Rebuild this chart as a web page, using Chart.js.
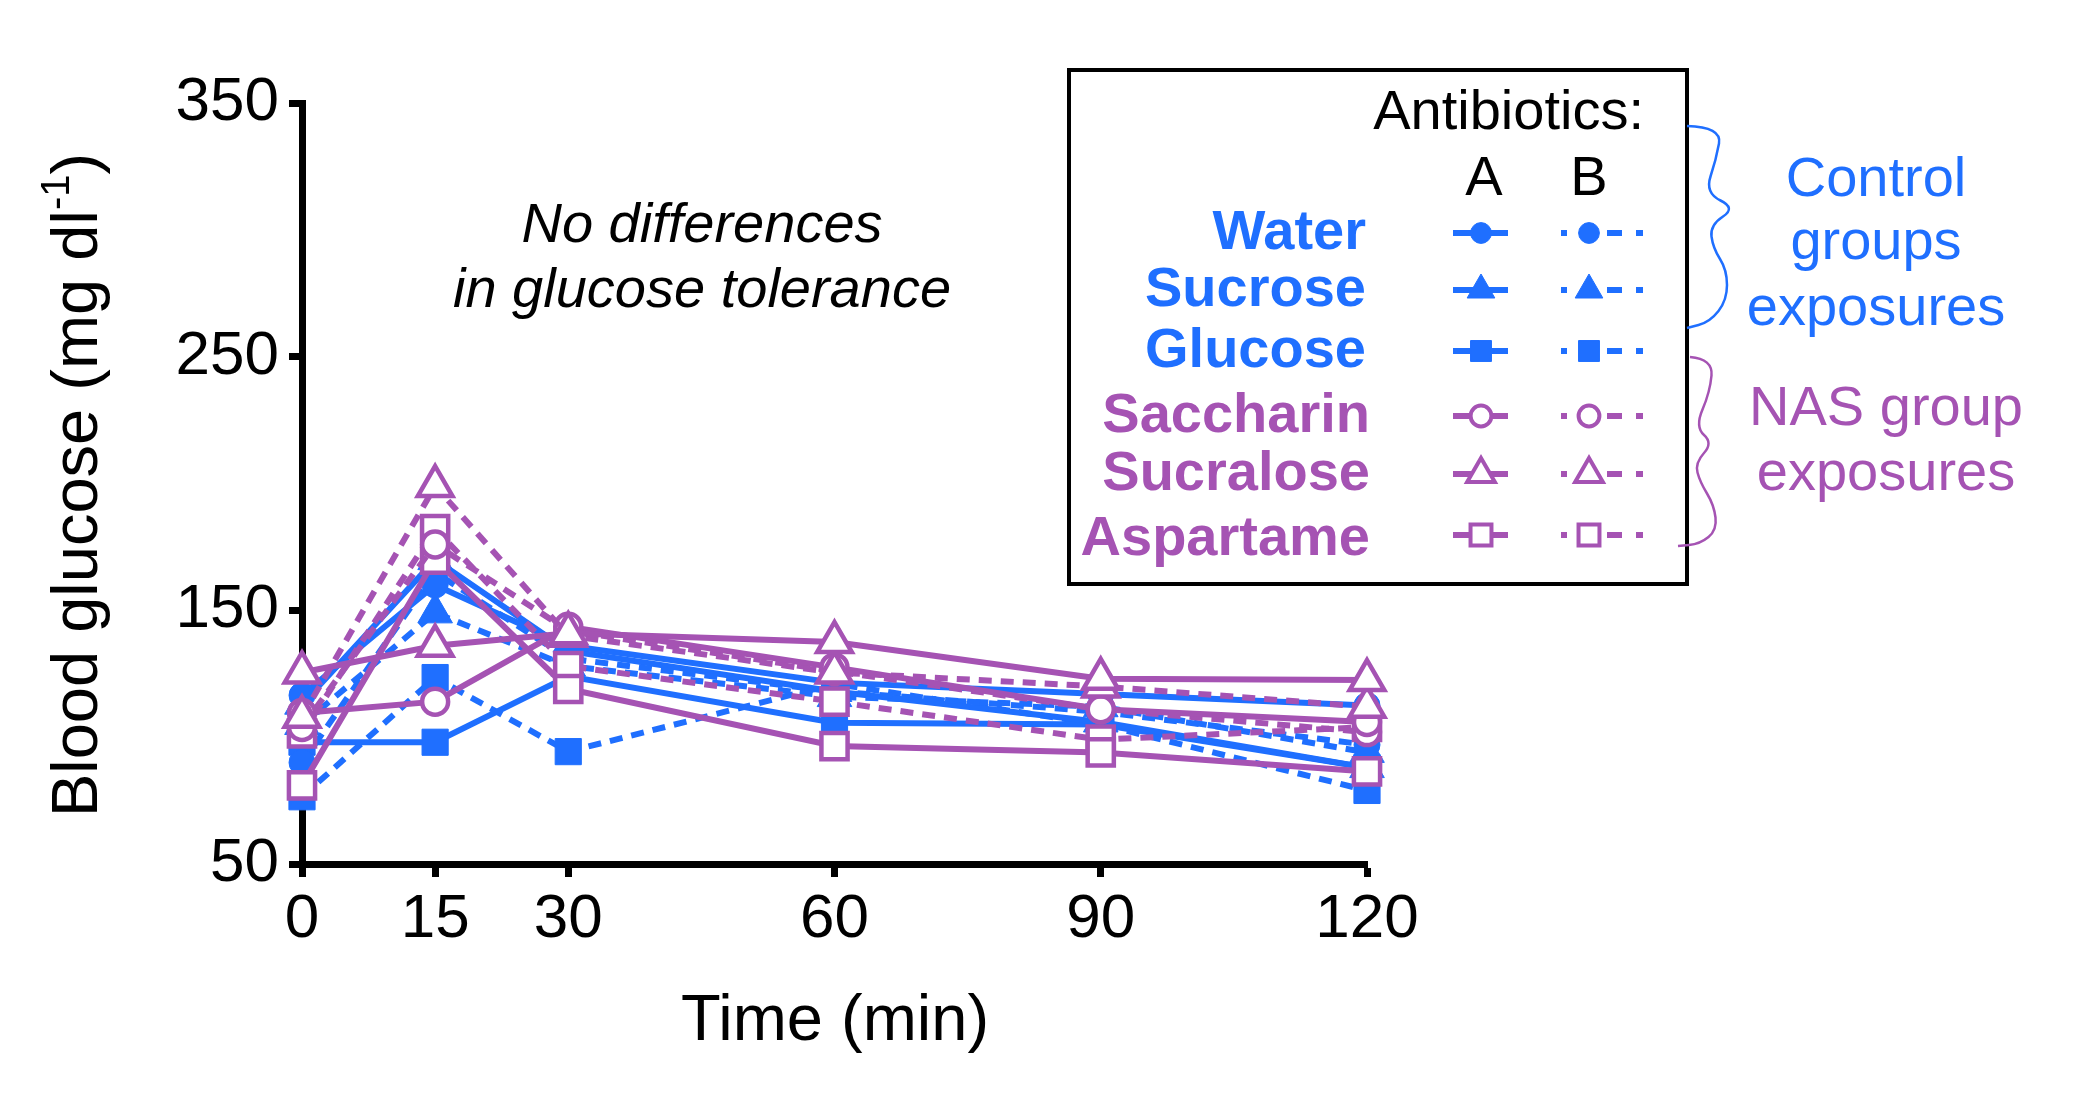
<!DOCTYPE html>
<html>
<head>
<meta charset="utf-8">
<title>Blood glucose</title>
<script src="https://cdn.jsdelivr.net/npm/chart.js@4.4.1/dist/chart.umd.min.js"></script>
<style>
  html, body { margin: 0; padding: 0; background: #fff; }
  canvas { display: block; }
</style>
</head>
<body>
<canvas id="glucoseChart" width="2078" height="1093"></canvas>
<script>
// ==========================
// Data
// ==========================

const timePoints = [0, 15, 30, 60, 90, 120];
const yTicks = [50, 150, 250, 350];

// control groups (blue, filled markers)
const waterA = [116.5, 160, 136, 121.5, 117, 112.5];
const waterB = [90, 165, 131, 118, 110, 97];
const sucroseA = [113, 170, 134, 118, 106, 88];
const sucroseB = [105, 149, 128, 116, 112, 94];
const glucoseA = [98, 98, 124, 105.7, 105, 88];
const glucoseB = [76.5, 123.5, 94.3, 121, 105, 79];

// NAS groups (purple, open markers)
const saccharinA = [109.5, 114, 143.5, 127.5, 111, 106];
const saccharinB = [104, 176, 142, 126, 111, 102];
const sucraloseA = [125.5, 136, 141, 137.5, 123, 122.5];
const sucraloseB = [108, 199, 140, 125.5, 120, 112];
const aspartameA = [81, 170, 119, 96.5, 94, 86.5];
const aspartameB = [101.5, 182, 128, 114, 99, 104];

const BLUE = "#1f6fff";
const PURPLE = "#a553b3";
const FONT = "'Liberation Sans', Arial, sans-serif";

const radiusFor = { circle: 13, triangle: 20, rect: 18.5 };

function makeSeries(label, values, color, style, dashed, open) {
    return {
        label: label,
        data: values.map((v, i) => ({ x: timePoints[i], y: v })),
        borderColor: color,
        borderWidth: 6,
        borderDash: dashed ? [13, 9] : [],
        backgroundColor: color,
        pointStyle: style,
        pointRadius: radiusFor[style],
        pointHoverRadius: radiusFor[style],
        pointBackgroundColor: open ? "#ffffff" : color,
        pointBorderColor: color,
        pointBorderWidth: open ? 4.5 : 1,
        tension: 0,
        clip: false
    };
}

// first datasets are painted last (on top)
const datasets = [
    makeSeries("Sucralose A", sucraloseA, PURPLE, "triangle", false, true),
    makeSeries("Sucralose B", sucraloseB, PURPLE, "triangle", true, true),
    makeSeries("Saccharin A", saccharinA, PURPLE, "circle", false, true),
    makeSeries("Saccharin B", saccharinB, PURPLE, "circle", true, true),
    makeSeries("Aspartame A", aspartameA, PURPLE, "rect", false, true),
    makeSeries("Aspartame B", aspartameB, PURPLE, "rect", true, true),
    makeSeries("Water A", waterA, BLUE, "circle", false, false),
    makeSeries("Water B", waterB, BLUE, "circle", true, false),
    makeSeries("Sucrose A", sucroseA, BLUE, "triangle", false, false),
    makeSeries("Sucrose B", sucroseB, BLUE, "triangle", true, false),
    makeSeries("Glucose A", glucoseA, BLUE, "rect", false, false),
    makeSeries("Glucose B", glucoseB, BLUE, "rect", true, false)
];

// ==========================
// Legend / annotation rows
// ==========================

const legendRows = [
    { name: "Water", color: BLUE, style: "circle", open: false },
    { name: "Sucrose", color: BLUE, style: "triangle", open: false },
    { name: "Glucose", color: BLUE, style: "rect", open: false },
    { name: "Saccharin", color: PURPLE, style: "circle", open: true },
    { name: "Sucralose", color: PURPLE, style: "triangle", open: true },
    { name: "Aspartame", color: PURPLE, style: "rect", open: true }
];
const legendRowY = [233, 290, 351, 416, 474, 535];
const legendTextY = [249, 306, 367, 432, 490, 555];

function marker(ctx, style, x, y, color, open, scale) {
    const r = radiusFor[style] * scale;
    ctx.fillStyle = open ? "#ffffff" : color;
    ctx.strokeStyle = color;
    ctx.lineWidth = open ? 4 : 1;
    ctx.setLineDash([]);
    Chart.helpers.drawPoint(ctx, { pointStyle: style, radius: r, rotation: 0, borderWidth: ctx.lineWidth }, x, y);
}

function smoothPath(ctx, pts) {
    ctx.beginPath();
    ctx.moveTo(pts[0][0], pts[0][1]);
    for (let i = 1; i < pts.length - 1; i++) {
        const mx = (pts[i][0] + pts[i + 1][0]) / 2;
        const my = (pts[i][1] + pts[i + 1][1]) / 2;
        ctx.quadraticCurveTo(pts[i][0], pts[i][1], mx, my);
    }
    const last = pts[pts.length - 1];
    ctx.lineTo(last[0], last[1]);
    ctx.stroke();
}

const overlay = {
    id: "overlay",
    afterDraw(chart) {
        const ctx = chart.ctx;
        ctx.save();
        ctx.textAlign = "left";
        ctx.textBaseline = "alphabetic";

        // y axis title with superscript
        ctx.save();
        ctx.translate(97, 485);
        ctx.rotate(-Math.PI / 2);
        ctx.fillStyle = "#000";
        const big = "65px " + FONT;
        const small = "40px " + FONT;
        ctx.font = big;
        const t1 = "Blood glucose (mg dl";
        const t3 = ")";
        const w1 = ctx.measureText(t1).width;
        const w3 = ctx.measureText(t3).width;
        ctx.font = small;
        const t2 = "-1";
        const w2 = ctx.measureText(t2).width;
        const start = -(w1 + w2 + w3) / 2;
        ctx.font = big;
        ctx.fillText(t1, start, 0);
        ctx.fillText(t3, start + w1 + w2, 0);
        ctx.font = small;
        ctx.fillText(t2, start + w1, -28);
        ctx.restore();

        // x axis title
        ctx.fillStyle = "#000";
        ctx.font = "65px " + FONT;
        ctx.textAlign = "center";
        ctx.fillText("Time (min)", 835, 1040);

        // annotation
        ctx.font = "italic 56px " + FONT;
        ctx.fillText("No differences", 702, 242);
        ctx.fillText("in glucose tolerance", 702, 307);

        // legend box
        ctx.lineWidth = 4;
        ctx.strokeStyle = "#000";
        ctx.setLineDash([]);
        ctx.strokeRect(1069, 70, 618, 514);

        ctx.font = "56px " + FONT;
        ctx.textAlign = "right";
        ctx.fillText("Antibiotics:", 1644, 129);
        ctx.textAlign = "center";
        ctx.fillText("A", 1484, 195);
        ctx.fillText("B", 1589, 195);

        ctx.font = "bold 56px " + FONT;
        ctx.textAlign = "right";
        legendRows.forEach((row, i) => {
            const y = legendRowY[i];
            ctx.fillStyle = row.color;
            ctx.fillText(row.name, row.color === BLUE ? 1366 : 1370, legendTextY[i]);

            // column A: solid line through marker
            ctx.strokeStyle = row.color;
            ctx.lineWidth = 6;
            ctx.setLineDash([]);
            ctx.beginPath();
            ctx.moveTo(1453, y);
            ctx.lineTo(1508, y);
            ctx.stroke();
            marker(ctx, row.style, 1481, y, row.color, row.open, 0.8);

            // column B: dashed line through marker
            ctx.strokeStyle = row.color;
            ctx.lineWidth = 6;
            [[1561, 1567], [1607, 1622], [1636, 1643]].forEach(seg => {
                ctx.beginPath();
                ctx.moveTo(seg[0], y);
                ctx.lineTo(seg[1], y);
                ctx.stroke();
            });
            marker(ctx, row.style, 1589, y, row.color, row.open, 0.8);
        });

        // braces
        ctx.lineWidth = 2.5;
        ctx.strokeStyle = BLUE;
        smoothPath(ctx, [[1687, 126], [1722, 127], [1716, 160], [1705, 193], [1736, 208], [1710, 225], [1713, 248], [1727, 270], [1727, 300], [1710, 322], [1687, 328]]);
        ctx.strokeStyle = PURPLE;
        smoothPath(ctx, [[1690, 357], [1713, 359], [1710, 392], [1695, 427], [1713, 443], [1695, 463], [1700, 482], [1714, 505], [1717, 530], [1700, 544], [1678, 546]]);

        // group captions
        ctx.font = "56px " + FONT;
        ctx.textAlign = "center";
        ctx.fillStyle = BLUE;
        ctx.fillText("Control", 1876, 196);
        ctx.fillText("groups", 1876, 259);
        ctx.fillText("exposures", 1876, 325);
        ctx.fillStyle = PURPLE;
        ctx.fillText("NAS group", 1886, 425);
        ctx.fillText("exposures", 1886, 490);

        ctx.restore();
    }
};

// ==========================
// Chart
// ==========================

const chartCanvas = document.getElementById("glucoseChart");

new Chart(chartCanvas, {
    type: "line",
    data: { datasets: datasets },
    options: {
        responsive: false,
        devicePixelRatio: 1,
        animation: false,
        events: [],
        layout: {
            padding: { top: 103, right: 711, bottom: 0, left: 0 }
        },
        plugins: {
            legend: { display: false },
            tooltip: { enabled: false }
        },
        scales: {
            x: {
                type: "linear",
                min: 0,
                max: 120,
                afterBuildTicks: (scale) => {
                    scale.ticks = timePoints.map(v => ({ value: v }));
                },
                afterFit: (scale) => { scale.height = 229; },
                border: { display: true, color: "#000", width: 7 },
                grid: {
                    drawOnChartArea: false,
                    drawTicks: true,
                    tickLength: 13,
                    tickWidth: 7,
                    tickColor: "#000"
                },
                ticks: {
                    color: "#000",
                    font: { family: FONT, size: 62 },
                    padding: 6,
                    maxRotation: 0,
                    autoSkip: false
                }
            },
            y: {
                min: 50,
                max: 350,
                afterBuildTicks: (scale) => {
                    scale.ticks = yTicks.map(v => ({ value: v }));
                },
                afterFit: (scale) => { scale.width = 302; },
                border: { display: true, color: "#000", width: 7 },
                grid: {
                    drawOnChartArea: false,
                    drawTicks: true,
                    tickLength: 13,
                    tickWidth: 7,
                    tickColor: "#000"
                },
                ticks: {
                    color: "#000",
                    font: { family: FONT, size: 62 },
                    padding: 10
                }
            }
        }
    },
    plugins: [overlay]
});
</script>
</body>
</html>
